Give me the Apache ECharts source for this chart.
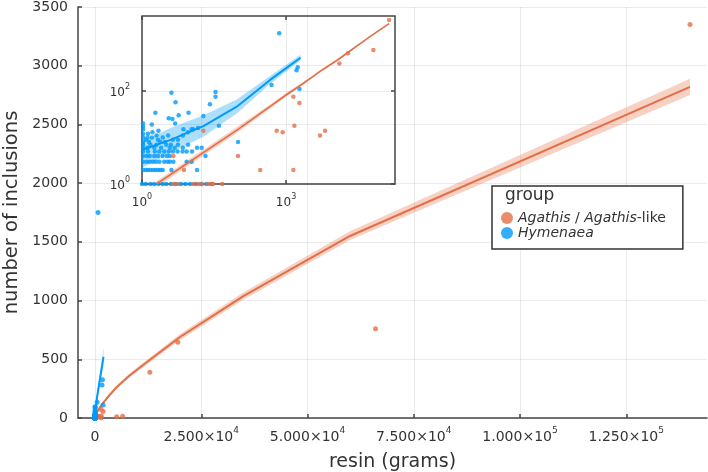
<!DOCTYPE html>
<html>
<head>
<meta charset="utf-8">
<script src="https://cdn.jsdelivr.net/npm/echarts@6/dist/echarts.min.js"></script>
<style>
  html, body { margin: 0; padding: 0; background: #fff; }
  #main { width: 708px; height: 472px; }
</style>
</head>
<body>
<div id="main"></div>
<script>
// groups
var nameA = 'Agathis / Agathis-like';
var nameH = 'Hymenaea';

// Agathis / Agathis-like samples (resin grams, inclusions)
var agathisResin = [140000, 66000, 19500, 12900, 6500, 5100, 1900, 1420, 1490, 640, 850, 100, 290, 1420, 7.5, 19, 4.5,
    4.5, 5.6, 11.5, 14.7, 17.8, 24, 28, 30, 47];
var agathisIncl = [3350, 760, 645, 390, 14, 11, 55, 75, 18, 14, 13, 4, 2, 2, 2, 14, 4,
    1, 1, 1, 1, 1, 1, 1, 1, 1];

// Hymenaea samples
var hymenaeaResin = [720, 500, 1650, 1750, 1900, 34, 34, 26, 19, 40, 4.1, 5, 1.9, 9.3, 5.8, 3.6, 4.3, 4.9, 1.05, 1.6, 2.2, 7.3, 10.8, 17.5, 100, 21, 14, 4.5, 8.5, 10.8, 4.1,
    1.05, 1.33, 1.65, 2, 1.2, 1.6, 2.15, 2.7, 3.5, 4.4, 5.6, 7.1, 9, 11.6, 14.7, 5.6, 7.1, 9.1, 14,
    1.05, 1.4, 2.4, 3,
    1.05, 1.5, 2, 3.2, 4,
    1.05, 1.3, 1.8, 2.5, 3.8, 4.8,
    1.05, 1.33, 1.85, 2.3, 2.9, 3.6, 4.4, 5.5, 7, 8.5, 11,
    1.05, 1.25, 1.45, 1.8, 2.15, 2.7, 3.3, 3.8,
    1.05, 1.25, 1.45, 1.7, 1.95, 2.3, 2.9, 3.4, 3.8,
    1.05, 1.2, 1.33, 1.5, 1.7, 1.9, 2.15, 2.4, 2.7,
    1, 1.2, 1.5, 1.8, 2.2, 2.7, 3.2, 4, 5, 6.5, 8, 10, 13, 17, 22, 28,
    1.05, 1.3, 1.05, 1.05];
var hymenaeaIncl = [1750, 135, 280, 325, 110, 95, 75, 52, 29, 18, 92, 57, 34, 34, 30, 26, 25, 20, 20, 19, 14, 15, 15, 6, 8, 4, 2, 3, 3, 3, 2,
    12, 12, 13, 11, 9, 10, 9, 10, 11, 9, 9, 11, 13, 15, 16, 7, 6, 7, 6,
    8, 8, 8, 8,
    7, 7, 7, 7, 7,
    6, 6, 6, 6, 6, 6,
    5, 5, 5, 5, 5, 5, 5, 5, 5, 5, 5,
    4, 4, 4, 4, 4, 4, 4, 4,
    3, 3, 3, 3, 3, 3, 3, 3, 3,
    2, 2, 2, 2, 2, 2, 2, 2, 2,
    1, 1, 1, 1, 1, 1, 1, 1, 1, 1, 1, 1, 1, 1, 1, 1,
    10, 10, 15, 17];

// fitted curves with confidence band
var fitAX = [2, 100, 500, 1000, 2000, 3500, 5000, 8000, 12000, 20000, 35000, 60000, 140000];
var fitAY = [1, 15, 49, 82, 133, 198, 260, 358, 470, 690, 1040, 1550, 2820];
var fitALo = [0.85, 13, 44, 75, 124, 187, 247, 342, 450, 665, 1010, 1515, 2750];
var fitAHi = [1.15, 17.5, 54, 90, 142, 209, 273, 374, 490, 715, 1070, 1590, 2890];

var fitHX = [1, 3.8, 19, 94, 465, 2000];
var fitHY = [5.4, 8.8, 17.6, 46, 173, 520];
var fitHLo = [2.2, 4.6, 10.4, 33, 141, 450];
var fitHHi = [8.1, 15.8, 30, 66, 210, 600];

// ticks
var xTicks = [0, 25000, 50000, 75000, 100000, 125000];
var insetXTicks = [1, 1000];
var insetYTicks = [1, 100];

var orange = '#E36F47';
var blue = '#009AFA';
var orangeBand = 'rgba(227,111,71,0.32)';
var blueBand = 'rgba(0,154,250,0.32)';
var font = 'DejaVu Sans';
var txt = '#333333';
var axisCol = '#454545';
var gridCol = 'rgba(0,0,0,0.08)';

function zip(a, b) {
    var out = [];
    for (var i = 0; i < a.length; i++) out.push([a[i], b[i]]);
    return out;
}

function sciLabel(v) {
    if (v === 0) return '{b|0}';
    var e = Math.floor(Math.log10(v) + 1e-9);
    var m = v / Math.pow(10, e);
    return '{b|' + m.toFixed(3) + '×10}{s|' + e + '}';
}

function powLabel(v) {
    var e = Math.round(Math.log10(v));
    return '{b|10}{s|' + e + '}';
}

function bandRender(xs, lo, hi, color) {
    return function (params, api) {
        var pts = [];
        for (var i = 0; i < xs.length; i++) pts.push(api.coord([xs[i], hi[i]]));
        for (var j = xs.length - 1; j >= 0; j--) pts.push(api.coord([xs[j], lo[j]]));
        return {
            type: 'polygon',
            shape: { points: pts },
            style: { fill: color },
            silent: true
        };
    };
}

var supRich = function (size, sup, lh) {
    return {
        b: { fontFamily: font, fontSize: size, color: txt, lineHeight: lh, verticalAlign: 'bottom' },
        s: { fontFamily: font, fontSize: sup, color: txt, lineHeight: lh, verticalAlign: 'top' }
    };
};

var myChart = echarts.init(document.getElementById('main'));

var option = {
    animation: false,
    backgroundColor: '#fff',
    grid: [
        { left: 78, top: 7, right: 1, bottom: 54, outerBoundsMode: 'none', containLabel: false },
        { left: 142, top: 16, width: 253, height: 168, outerBoundsMode: 'none', containLabel: false,
          show: true, borderColor: axisCol, borderWidth: 1.5, backgroundColor: 'transparent', z: 5 }
    ],
    legend: {
        data: [nameA, nameH],
        orient: 'vertical',
        left: 492,
        top: 186,
        padding: [25, 17, 9, 9],
        itemGap: 1,
        itemWidth: 12,
        itemHeight: 12,
        icon: 'circle',
        borderColor: '#333',
        borderWidth: 1.5,
        backgroundColor: '#fff',
        formatter: function (name) {
            return name === nameA ? '{i|Agathis} / {i|Agathis}-like' : '{i|Hymenaea}';
        },
        textStyle: {
            fontFamily: font, fontSize: 14, color: txt,
            rich: { i: { fontFamily: font, fontSize: 14, color: txt, fontStyle: 'italic' } }
        }
    },
    graphic: [{
        type: 'text',
        left: 505,
        top: 187,
        z: 100,
        style: { text: 'group', fontFamily: font, fontSize: 17, fill: txt }
    }],
    xAxis: [
        {
            gridIndex: 0, type: 'value', min: -4000, max: 144000,
            name: 'resin (grams)', nameLocation: 'middle', nameGap: 35,
            nameTextStyle: { fontFamily: font, fontSize: 19, color: txt },
            axisLine: { onZero: false, lineStyle: { color: axisCol, width: 1.5 } },
            axisTick: { inside: true, length: 4, customValues: xTicks, lineStyle: { color: axisCol, width: 1.5 } },
            axisLabel: { customValues: xTicks, formatter: sciLabel, margin: 8, fontFamily: font, fontSize: 14,
                         color: txt, rich: supRich(14, 9, 18) },
            splitLine: { show: true, lineStyle: { color: gridCol } }
        },
        {
            gridIndex: 1, type: 'log', logBase: 10, min: 1, max: 186000,
            axisLine: { show: false },
            axisTick: { inside: true, length: 4, customValues: insetXTicks, lineStyle: { color: axisCol, width: 1.5 } },
            axisLabel: { customValues: insetXTicks, formatter: powLabel, margin: 9, fontFamily: font, fontSize: 12,
                         rich: supRich(12, 8, 16) },
            splitLine: { show: true, lineStyle: { color: gridCol } }
        },
        {
            gridIndex: 1, type: 'log', logBase: 10, min: 1, max: 186000, position: 'top',
            axisLine: { show: false },
            axisTick: { inside: true, length: 4, customValues: insetXTicks, lineStyle: { color: axisCol, width: 1.5 } },
            axisLabel: { show: false },
            splitLine: { show: false }
        }
    ],
    yAxis: [
        {
            gridIndex: 0, type: 'value', min: 0, max: 3500, interval: 500,
            name: 'number of inclusions', nameLocation: 'middle', nameGap: 52,
            nameTextStyle: { fontFamily: font, fontSize: 19.5, color: txt },
            axisLine: { show: true, onZero: false, lineStyle: { color: axisCol, width: 1.5 } },
            axisTick: { show: true, inside: true, length: 4, lineStyle: { color: axisCol, width: 1.5 } },
            axisLabel: { fontFamily: font, fontSize: 14, color: txt, margin: 10, formatter: function (v) { return String(v); } },
            splitLine: { show: true, lineStyle: { color: gridCol } }
        },
        {
            gridIndex: 1, type: 'log', logBase: 10, min: 1, max: 4100,
            axisLine: { show: false },
            axisTick: { show: true, inside: true, length: 4, customValues: insetYTicks, lineStyle: { color: axisCol, width: 1.5 } },
            axisLabel: { customValues: insetYTicks, formatter: powLabel, margin: 12, fontFamily: font, fontSize: 12,
                         rich: supRich(12, 8, 16) },
            splitLine: { show: true, lineStyle: { color: gridCol } }
        },
        {
            gridIndex: 1, type: 'log', logBase: 10, min: 1, max: 4100, position: 'right',
            axisLine: { show: false },
            axisTick: { show: true, inside: true, length: 4, customValues: insetYTicks, lineStyle: { color: axisCol, width: 1.5 } },
            axisLabel: { show: false },
            splitLine: { show: false }
        }
    ],
    series: [
        // main panel
        { name: nameA, type: 'scatter', xAxisIndex: 0, yAxisIndex: 0, data: zip(agathisResin, agathisIncl),
          symbolSize: 5, itemStyle: { color: orange }, z: 4 },
        { name: nameH, type: 'scatter', xAxisIndex: 0, yAxisIndex: 0, data: zip(hymenaeaResin, hymenaeaIncl),
          symbolSize: 5, itemStyle: { color: blue }, z: 4 },
        { name: 'bandA', type: 'custom', xAxisIndex: 0, yAxisIndex: 0, data: [[fitAX[0], fitALo[0]]],
          renderItem: bandRender(fitAX, fitALo, fitAHi, orangeBand), clip: true, z: 2 },
        { name: 'fitA', type: 'line', xAxisIndex: 0, yAxisIndex: 0, data: zip(fitAX, fitAY),
          showSymbol: false, lineStyle: { color: orange, width: 2 }, itemStyle: { color: orange }, z: 3 },
        { name: 'bandH', type: 'custom', xAxisIndex: 0, yAxisIndex: 0, data: [[fitHX[0], fitHLo[0]]],
          renderItem: bandRender(fitHX, fitHLo, fitHHi, blueBand), clip: true, z: 2 },
        { name: 'fitH', type: 'line', xAxisIndex: 0, yAxisIndex: 0, data: zip(fitHX, fitHY),
          showSymbol: false, lineStyle: { color: blue, width: 2 }, itemStyle: { color: blue }, z: 3 },

        // inset, log-log
        { name: 'bandA2', type: 'custom', xAxisIndex: 1, yAxisIndex: 1, data: [[fitAX[0], 1]],
          renderItem: bandRender(fitAX, fitALo, fitAHi, orangeBand), clip: true, z: 6 },
        { name: 'bandH2', type: 'custom', xAxisIndex: 1, yAxisIndex: 1, data: [[fitHX[0], fitHLo[0]]],
          renderItem: bandRender(fitHX, fitHLo, fitHHi, blueBand), clip: true, z: 6 },
        { name: nameH, type: 'scatter', xAxisIndex: 1, yAxisIndex: 1, data: zip(hymenaeaResin, hymenaeaIncl),
          symbolSize: 4.5, itemStyle: { color: blue }, clip: false, z: 7 },
        { name: nameA, type: 'scatter', xAxisIndex: 1, yAxisIndex: 1, data: zip(agathisResin, agathisIncl),
          symbolSize: 4.5, itemStyle: { color: orange }, clip: false, z: 7 },
        { name: 'fitA2', type: 'line', xAxisIndex: 1, yAxisIndex: 1, data: zip(fitAX, fitAY),
          showSymbol: false, clip: true, lineStyle: { color: orange, width: 1.6 }, itemStyle: { color: orange }, z: 8 },
        { name: 'fitH2', type: 'line', xAxisIndex: 1, yAxisIndex: 1, data: zip(fitHX, fitHY),
          showSymbol: false, clip: true, lineStyle: { color: blue, width: 2 }, itemStyle: { color: blue }, z: 8 }
    ]
};

myChart.setOption(option);
</script>
</body>
</html>
